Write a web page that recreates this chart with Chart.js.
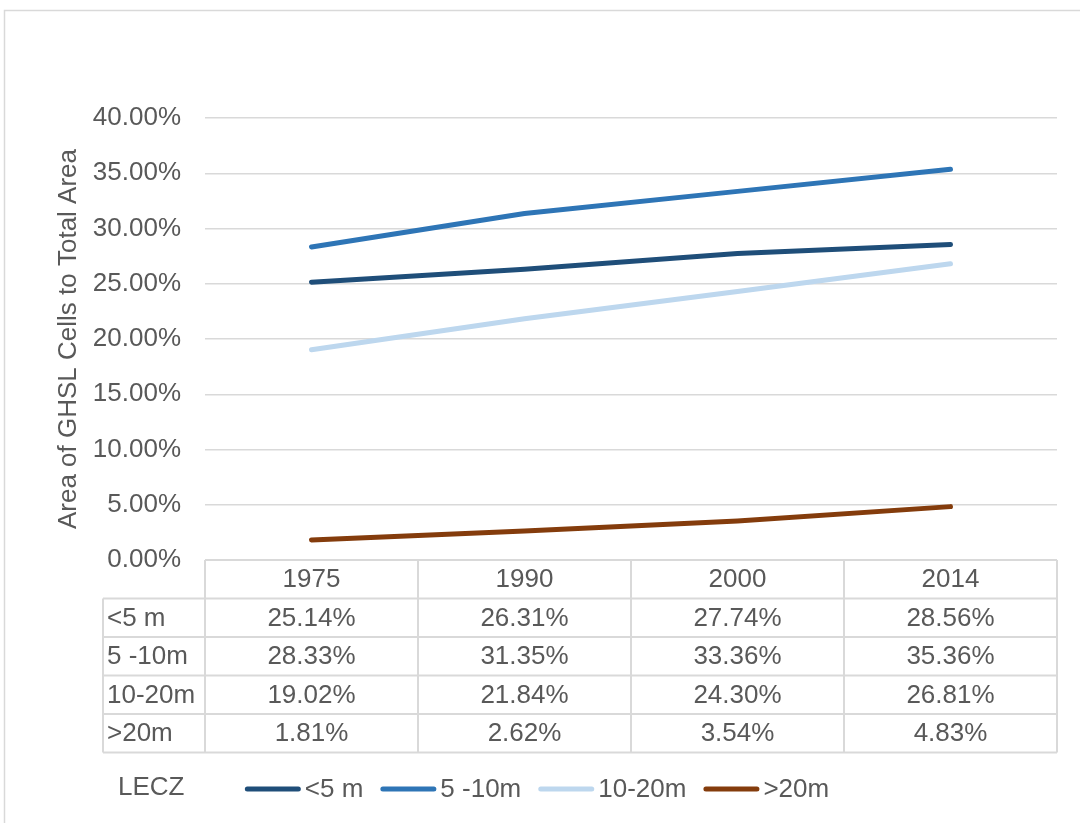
<!DOCTYPE html>
<html>
<head>
<meta charset="utf-8">
<script src="https://cdn.jsdelivr.net/npm/chart.js@4"></script>
<style>
  html, body { margin: 0; padding: 0; background: #ffffff; }
  canvas { display: block; }
</style>
</head>
<body>
<canvas id="chart" width="1080" height="823"></canvas>
<script>
// Years shown as categories and in the data table header
const years = ['1975', '1990', '2000', '2014'];
// Elevation zone names (legend + table row labels)
const zoneNames = ['<5 m', '5 -10m', '10-20m', '>20m'];
// Share of GHSL built-up cells in total area, in percent
const below5m = [25.14, 26.31, 27.74, 28.56];
const from5to10m = [28.33, 31.35, 33.36, 35.36];
const from10to20m = [19.02, 21.84, 24.30, 26.81];
const above20m = [1.81, 2.62, 3.54, 4.83];
const legendTitle = 'LECZ';
const yAxisTitle = 'Area of GHSL Cells to Total Area';

const FAMILY = '"Liberation Sans", Arial, sans-serif';
const SIZE = 26;
const FONT = SIZE + 'px ' + FAMILY;
const INK = '#595959';
const RULE = '#D9D9D9';
const COLORS = ['#1F4E79', '#2E75B6', '#BDD7EE', '#843C0C'];

const pct = v => Number(v).toFixed(2) + '%';

// Frame, data table under the plot, and the legend line
const tableAndLegend = {
  id: 'tableAndLegend',
  beforeDraw(chart) {
    const ctx = chart.ctx;
    ctx.save();
    ctx.strokeStyle = RULE;
    ctx.lineWidth = 1.5;
    ctx.strokeRect(4.5, 10.5, 1200, 1000);
    ctx.restore();
  },
  afterDraw(chart) {
    const { ctx, chartArea: area, scales: { x } } = chart;
    const sets = chart.data.datasets;
    const rowH = 38.5;
    const top = area.bottom;
    const labelLeft = 103;
    const bottom = top + rowH * (sets.length + 1);
    const colW = (area.right - area.left) / years.length;

    ctx.save();
    ctx.strokeStyle = RULE;
    ctx.lineWidth = 2;
    ctx.beginPath();
    ctx.moveTo(area.left, top);
    ctx.lineTo(area.right, top);
    for (let r = 1; r <= sets.length + 1; r++) {
      const y = top + r * rowH;
      ctx.moveTo(labelLeft, y);
      ctx.lineTo(area.right, y);
    }
    ctx.moveTo(labelLeft, top + rowH);
    ctx.lineTo(labelLeft, bottom);
    for (let i = 0; i <= years.length; i++) {
      const xx = area.left + i * colW;
      ctx.moveTo(xx, top);
      ctx.lineTo(xx, bottom);
    }
    ctx.stroke();

    ctx.fillStyle = INK;
    ctx.font = FONT;
    ctx.textBaseline = 'middle';
    ctx.textAlign = 'center';
    chart.data.labels.forEach((yr, i) => {
      ctx.fillText(yr, x.getPixelForValue(i), top + rowH / 2 + 1);
    });
    sets.forEach((ds, r) => {
      const cy = top + (r + 1.5) * rowH + 1;
      ctx.textAlign = 'left';
      ctx.fillText(ds.label, labelLeft + 4, cy);
      ctx.textAlign = 'center';
      ds.data.forEach((v, i) => ctx.fillText(pct(v), x.getPixelForValue(i), cy));
    });

    // Legend
    const legendY = 790;
    ctx.textAlign = 'left';
    ctx.fillText(legendTitle, 118, legendY - 2);
    const lineW = 56, gap = 4, sep = 17;
    const widths = sets.map(ds => ctx.measureText(ds.label).width);
    const total = widths.reduce((a, w) => a + w + lineW + gap, 0) + sep * (sets.length - 1);
    let lx = 537 - total / 2;
    ctx.lineCap = 'round';
    ctx.lineWidth = 5;
    sets.forEach((ds, i) => {
      ctx.strokeStyle = ds.borderColor;
      ctx.beginPath();
      ctx.moveTo(lx + 2.5, legendY - 1);
      ctx.lineTo(lx + lineW - 2.5, legendY - 1);
      ctx.stroke();
      ctx.fillText(ds.label, lx + lineW + gap, legendY);
      lx += lineW + gap + widths[i] + sep;
    });
    ctx.restore();
  }
};

const seriesValues = [below5m, from5to10m, from10to20m, above20m];

new Chart(document.getElementById('chart'), {
  type: 'line',
  data: {
    labels: years,
    datasets: zoneNames.map((name, i) => ({
      label: name,
      data: seriesValues[i],
      borderColor: COLORS[i],
      backgroundColor: COLORS[i],
      borderWidth: 5,
      borderCapStyle: 'round',
      borderJoinStyle: 'round',
      pointRadius: 0,
      tension: 0,
      fill: false
    }))
  },
  options: {
    responsive: false,
    animation: false,
    layout: { padding: { left: 0, right: 23, top: 118, bottom: 263 } },
    plugins: {
      legend: { display: false },
      tooltip: { enabled: false }
    },
    scales: {
      x: { display: false, offset: true },
      y: {
        min: 0,
        max: 40,
        ticks: {
          stepSize: 5,
          padding: 24,
          color: INK,
          font: { family: FAMILY, size: SIZE },
          callback: v => pct(v)
        },
        grid: { color: RULE, lineWidth: 1.5, drawTicks: false },
        border: { display: false },
        title: {
          display: true,
          text: yAxisTitle,
          color: INK,
          font: { family: FAMILY, size: SIZE },
          padding: { top: 53, bottom: 0 }
        },
        afterFit(scale) { scale.width = 205; }
      }
    }
  },
  plugins: [tableAndLegend]
});
</script>
</body>
</html>
